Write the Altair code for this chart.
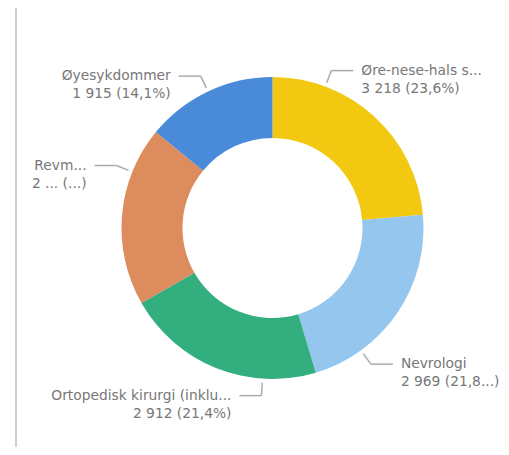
import altair as alt
import pandas as pd

# ---- data ----
categories = ["Øre-nese-hals sykdommer", "Nevrologi", "Ortopedisk kirurgi (inklusive)", "Revmatologi", "Øyesykdommer"]
values = [3218, 2969, 2912, 2622, 1915]
name_labels = ["Øre-nese-hals s...", "Nevrologi", "Ortopedisk kirurgi (inklu...", "Revm...", "Øyesykdommer"]
value_labels = ["3 218 (23,6%)", "2 969 (21,8...)", "2 912 (21,4%)", "2 ... (...)", "1 915 (14,1%)"]

# ---- layout / style ----
palette = ["#F2C811", "#94C6EE", "#33AE7F", "#DD8D5D", "#4A8BD9"]
label_nudge_deg = [-22, 20, -18, 17, 0]   # leader-line placement relative to slice middle
CX, CY = 264.5, 220
R_OUT, R_IN = 151, 90
R_LEAD0, R_LEAD1 = 155, 168
HSEG, TGAP = 22, 8
FONT = "DejaVu Sans"
FSIZE = 13.8
TXT = "#777777"

df = pd.DataFrame({
    "idx": list(range(len(categories))),
    "category": categories,
    "value": values,
    "name": name_labels,
    "vlabel": value_labels,
    "nudge": label_nudge_deg,
})
df["label"] = df["name"] + "\n" + df["vlabel"]

base = alt.Chart(df)

arc = base.mark_arc(innerRadius=R_IN, outerRadius=R_OUT).encode(
    theta=alt.Theta("value:Q", stack=True),
    color=alt.Color("category:N", scale=alt.Scale(domain=categories, range=palette), legend=None),
    order=alt.Order("idx:Q"),
    x=alt.value(CX),
    y=alt.value(CY),
)

geo = base.transform_window(
    cum="sum(value)", sort=[alt.SortField("idx")], frame=[None, 0]
).transform_joinaggregate(
    total="sum(value)"
).transform_calculate(
    ang="((datum.cum - datum.value/2)/datum.total*360 + datum.nudge)*PI/180"
).transform_calculate(
    s="sin(datum.ang)", c="cos(datum.ang)"
).transform_calculate(
    side="datum.s >= 0 ? 1 : -1",
    x0=f"{CX} + {R_LEAD0}*datum.s",
    y0=f"{CY} - {R_LEAD0}*datum.c",
    x1=f"{CX} + {R_LEAD1}*datum.s",
    y1=f"{CY} - {R_LEAD1}*datum.c",
).transform_calculate(
    x2=f"datum.x1 + datum.side*{HSEG}",
    tx=f"datum.x1 + datum.side*{HSEG + TGAP}",
)

seg1 = geo.mark_rule(color="#ababab", strokeWidth=1.5).encode(
    x=alt.X("x0:Q", scale=None, axis=None),
    y=alt.Y("y0:Q", scale=None, axis=None),
    x2="x1:Q",
    y2="y1:Q",
)
seg2 = geo.mark_rule(color="#ababab", strokeWidth=1.5).encode(
    x=alt.X("x1:Q", scale=None, axis=None),
    y=alt.Y("y1:Q", scale=None, axis=None),
    x2="x2:Q",
    y2="y1:Q",
)

txt_right = geo.transform_filter("datum.side > 0").mark_text(
    align="left", baseline="middle", lineBreak="\n", lineHeight=18,
    font=FONT, fontSize=FSIZE, color=TXT,
).encode(
    x=alt.X("tx:Q", scale=None, axis=None),
    y=alt.Y("y1:Q", scale=None, axis=None),
    text="label:N",
)
txt_left = geo.transform_filter("datum.side < 0").mark_text(
    align="right", baseline="middle", lineBreak="\n", lineHeight=18,
    font=FONT, fontSize=FSIZE, color=TXT,
).encode(
    x=alt.X("tx:Q", scale=None, axis=None),
    y=alt.Y("y1:Q", scale=None, axis=None),
    text="label:N",
)

frame_line = base.mark_rule(color="#cfcfcf", strokeWidth=2).encode(
    x=alt.value(8), y=alt.value(0), y2=alt.value(439)
)

chart = alt.layer(frame_line, arc, seg1, seg2, txt_right, txt_left).properties(
    width=493, height=439, padding=0, autosize=alt.AutoSizeParams(type="none"),
    background="white",
).configure_view(stroke=None)

chart.save("out.html", embed_options={"renderer": "svg", "actions": False})
